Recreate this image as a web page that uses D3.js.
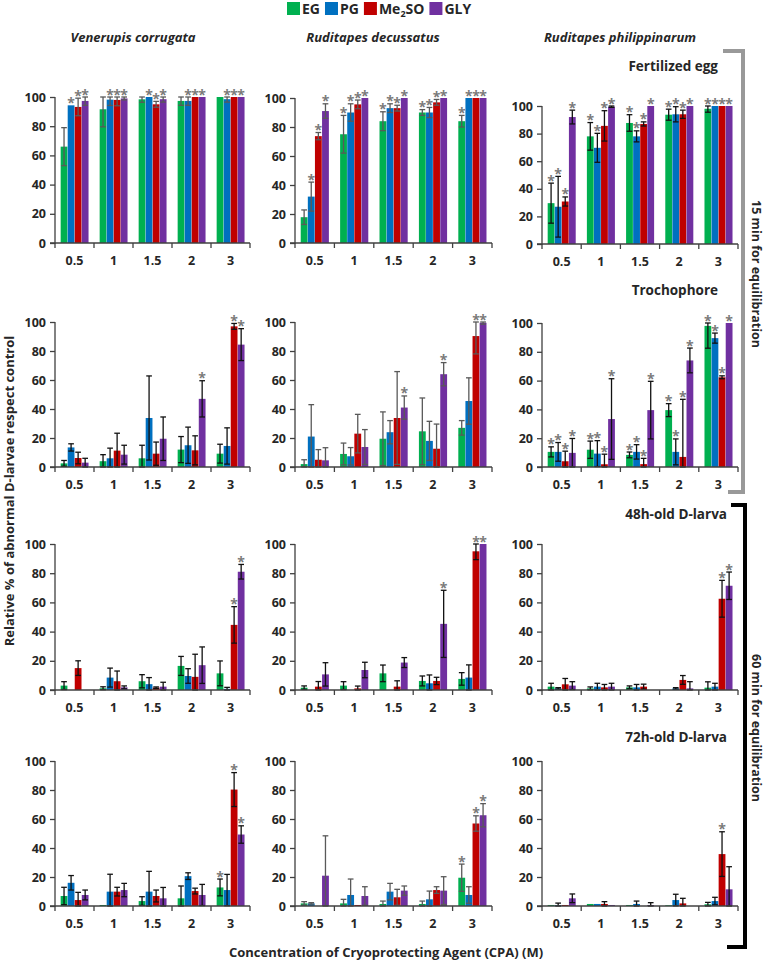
<!DOCTYPE html>
<html><head><meta charset="utf-8">
<script src="https://cdn.jsdelivr.net/npm/d3@7"></script>
<style>body{margin:0;background:#fff} svg{display:block} text{font-family:"Open Sans",sans-serif}</style>
</head><body><svg id="chart" width="767" height="962"></svg>
<script>
const concentrations = ["0.5","1","1.5","2","3"];
const cpas = ["EG","PG","Me2SO","GLY"];
const cpaColors = ["#00B050","#0070C0","#C00000","#7030A0"];
const species = ["Venerupis corrugata","Ruditapes decussatus","Ruditapes philippinarum"];
const stages = ["Fertilized egg","Trochophore","48h-old D-larva","72h-old D-larva"];
const yTicks = [0,20,40,60,80,100];
const equilibration = ["15 min for equilibration","60 min for equilibration"];
const xTitle = "Concentration of Cryoprotecting Agent (CPA) (M)";
const yTitle = "Relative % of abnormal D-larvae respect control";

// each row = one concentration; columns = EG, PG, Me2SO, GLY
const vcEggMean = [[66,94.3,93.2,97.3],[91.6,98.2,98,99],[98.4,100,95,98.5],[97.3,97.3,100,100],[100,98.5,100,100]];
const vcEggSd   = [[13,0,6,3],[12,4,4,1],[2,0,2,2],[3,3,0,0],[0,2,0,0]];
const vcEggSig  = [[0,1,1,1],[0,1,1,1],[0,1,1,1],[0,1,1,1],[0,1,1,1]];

const rdEggMean = [[17.8,32,73.7,91],[75,90,95.6,100],[84,93,93,100],[90,90,97,100],[84,100,100,100]];
const rdEggSd   = [[5,10,2.5,5],[13,6,3,0],[6.5,3,2,0],[2,3.5,2,0],[4,0,0,0]];
const rdEggSig  = [[0,1,1,1],[1,1,1,1],[1,1,1,1],[1,1,1,1],[1,1,1,1]];

const rpEggMean = [[29.6,27,30.8,92],[78,69.7,85.6,99.5],[87.7,78,87,100],[93.7,94,94,100],[98,100,100,100]];
const rpEggSd   = [[14.5,22,3.3,5],[10,10.5,11,0.5],[6,4,1.5,0],[4,5.5,3,0],[2.5,0,0,0]];
const rpEggSig  = [[1,1,1,1],[1,1,1,1],[1,1,1,1],[1,1,1,1],[1,1,1,1]];

const vcTroMean = [[2.5,13.5,6.2,3],[4,6,11.3,8.5],[6,33.8,9.2,19.5],[12,15,11.5,47],[9.2,14.5,97,84.4]];
const vcTroSd   = [[2,2.5,4,3],[4.5,7,12,6.5],[9,29,8,15],[9,12.5,10,12.5],[6.5,12.5,2,11]];
const vcTroSig  = [[0,0,0,0],[0,0,0,0],[0,0,0,0],[0,0,0,1],[0,0,1,1]];

const rdTroMean = [[2,21,5,4.6],[9,7.4,23,13.8],[19.5,24,33.8,41],[24.6,18,12.6,64],[27,45.5,90.3,99.5]];
const rdTroSd   = [[3,22,7,8.7],[7.5,6,13.3,12],[18.5,8,32,8],[23,13.5,17,8],[5,16,12.3,1]];
const rdTroSig  = [[0,0,0,0],[0,0,0,0],[0,0,0,1],[0,0,0,1],[0,0,1,1]];

const rpTroMean = [[10.5,10.5,4,9.8],[12,9.3,1.9,33.3],[8.4,10.5,2,39.5],[39.5,10.5,7,74],[98,89.5,62.3,100]];
const rpTroSd   = [[3.5,6.5,7,10],[6,9,7,28],[2,5,4,20],[4.5,9,40,8.6],[15.5,3.5,1,0]];
const rpTroSig  = [[1,1,1,1],[1,1,1,1],[1,1,1,1],[1,1,1,1],[1,1,1,1]];

const vc48Mean = [[3,0,15,0],[1.2,8.5,6,1.8],[6,4,1.6,2.3],[16.5,9.6,9,17],[11.4,0.8,44.6,81]];
const vc48Sd   = [[2.7,0,5,0],[1,6.5,7,1],[4.5,4.5,0.5,3],[6.5,5,15.5,12.5],[8.5,1,12.5,5]];
const vc48Sig  = [[0,0,0,0],[0,0,0,0],[0,0,0,0],[0,0,0,0],[0,0,1,1]];

const rd48Mean = [[1.6,0,2.3,10.7],[3,0,1.1,13.7],[11.4,0,2.3,18.8],[6.2,4.6,6.2,45.3],[7.6,8.5,95,100]];
const rd48Sd   = [[1.2,0,3.5,8],[2.7,0,1.6,5.3],[5.7,0,4,3.4],[3.4,5.7,2.5,23],[4.3,8.7,5.7,0]];
const rd48Sig  = [[0,0,0,0],[0,0,0,0],[0,0,0,0],[0,0,0,1],[0,0,1,1]];

const rp48Mean = [[2.3,1.1,3.9,3],[1.1,2.3,1.8,2.3],[1.8,1.8,2.3,0],[0,1.1,6.9,1.1],[1.6,2.3,62.5,71.4]];
const rp48Sd   = [[2.3,0.5,4,2.7],[1,2.3,2,2.3],[1,2,1.7,0],[0,0.5,3,4.6],[4,2.3,12.6,9.4]];
const rp48Sig  = [[0,0,0,0],[0,0,0,0],[0,0,0,0],[0,0,0,0],[0,0,1,1]];

const vc72Mean = [[6.9,16,4.1,7.6],[0.7,9.9,9.9,11],[3.4,9.9,6.9,5.3],[5.3,20.6,10.3,7.6],[12.8,11,80.3,49.3]];
const vc72Sd   = [[6,5,5.3,3.4],[0,12,3,4.6],[3,14,4.1,7.5],[8.5,2.3,2,7.3],[5.8,10.8,11.7,6]];
const vc72Sig  = [[0,0,0,0],[0,0,0,0],[0,0,0,0],[0,0,0,0],[1,0,1,1]];

const rd72Mean = [[1.8,1.8,0,20.9],[1.8,7.6,0.7,6.9],[1.4,9.9,6,10.6],[1.4,4.6,11,10.6],[19.5,7.6,56.9,62.6]];
const rd72Sd   = [[1.2,0.5,0,27.5],[2.8,11,0,6.4],[2,5.7,5.5,3.2],[2,5.7,2.3,9.6],[9.4,5.7,5.3,8]];
const rd72Sig  = [[0,0,0,0],[0,0,0,0],[0,0,0,0],[0,0,0,0],[1,0,1,1]];

const rp72Mean = [[0.7,0.7,0.7,5.3],[1.4,1.4,1.4,0.7],[0.7,1.4,0,0.7],[0.5,4.1,1.8,0],[1.2,3.4,35.8,11.5]];
const rp72Sd   = [[0,1.3,0,3],[0,0,1.6,0],[0,2,0,1.6],[0,4,3.5,0],[1.3,2.6,15.4,15.6]];
const rp72Sig  = [[0,0,0,0],[0,0,0,0],[0,0,0,0],[0,0,0,0],[0,0,1,0]];

// panel table built from the arrays above (row = stage, col = species)
const panelData = [
  [[vcEggMean,vcEggSd,vcEggSig],[rdEggMean,rdEggSd,rdEggSig],[rpEggMean,rpEggSd,rpEggSig]],
  [[vcTroMean,vcTroSd,vcTroSig],[rdTroMean,rdTroSd,rdTroSig],[rpTroMean,rpTroSd,rpTroSig]],
  [[vc48Mean,vc48Sd,vc48Sig],[rd48Mean,rd48Sd,rd48Sig],[rp48Mean,rp48Sd,rp48Sig]],
  [[vc72Mean,vc72Sd,vc72Sig],[rd72Mean,rd72Sd,rd72Sig],[rp72Mean,rp72Sd,rp72Sig]]
];

// layout
const colX0 = [55,295,542], colX1 = [250,492,738];
const rowTop = [[97,98,106],[322,322,323],[544,544,544],[761,761,761]];
const rowBot = [[243,243,244],[467,467,467],[690,690,690],[906,906,906]];
const errCol = [["#595959","#595959","#111"],["#111","#595959","#111"],["#111","#111","#111"],["#111","#595959","#111"]];

const svg = d3.select("#chart");
const axisCol = "#404040";
const tickFont = "bold 12.5px 'Open Sans'";

panelData.forEach((row, r) => {
  row.forEach((pd, c) => {
    const [mean, sd, sig] = pd;
    const x0 = colX0[c], x1 = colX1[c];
    const y = d3.scaleLinear().domain([0,100]).range([rowBot[r][c], rowTop[r][c]]);
    const xg = d3.scaleBand().domain(concentrations).range([x0, x1]).padding(0);
    const bw = xg.bandwidth();
    const xb = d3.scaleBand().domain(cpas).range([bw*0.145, bw*0.86]).paddingInner(0.04);
    const g = svg.append("g");

    // bars
    concentrations.forEach((conc, i) => {
      cpas.forEach((cp, k) => {
        const m = mean[i][k];
        const bx = xg(conc) + xb(cp);
        const w = xb.bandwidth();
        if (m > 0) {
          g.append("rect").attr("x", bx).attr("y", y(m)).attr("width", w)
            .attr("height", y(0) - y(m)).attr("fill", cpaColors[k]);
        }
      });
    });
    // error bars + asterisks
    concentrations.forEach((conc, i) => {
      cpas.forEach((cp, k) => {
        const m = mean[i][k], s = sd[i][k];
        const cx = xg(conc) + xb(cp) + xb.bandwidth()/2;
        const cap = xb.bandwidth()*0.42;
        let top = y(m);
        if (s > 0) {
          const hi = Math.min(100, m + s), lo = Math.max(0, m - s);
          top = y(hi);
          const ec = errCol[r][c];
          g.append("line").attr("x1", cx).attr("x2", cx).attr("y1", y(lo)).attr("y2", y(hi))
            .attr("stroke", ec).attr("stroke-width", 1.3);
          [hi, lo].forEach(v => {
            g.append("line").attr("x1", cx-cap).attr("x2", cx+cap).attr("y1", y(v)).attr("y2", y(v))
              .attr("stroke", ec).attr("stroke-width", 1.3);
          });
        }
        if (sig[i][k]) {
          g.append("text").attr("x", cx).attr("y", top + 2.5).attr("text-anchor", "middle")
            .attr("fill", "#7a7a7a").style("font", "bold 14px 'Open Sans'").text("*");
        }
      });
    });

    // y axis
    const ya = d3.axisLeft(y).tickValues(yTicks).tickSize(5).tickPadding(4);
    const yg = g.append("g").attr("transform", `translate(${x0},0)`).call(ya);
    yg.select(".domain").attr("stroke", axisCol).attr("stroke-width", 1.3).attr("d", `M-5,${y(0)}H0V${y(100)}`);
    yg.selectAll(".tick line").attr("stroke", axisCol).attr("stroke-width", 1.3);
    yg.selectAll(".tick text").style("font", tickFont).attr("fill", "#262626");

    // x axis
    const xa = d3.axisBottom(xg).tickSize(0).tickPadding(13);
    const xgAxis = g.append("g").attr("transform", `translate(0,${y(0)})`).call(xa);
    xgAxis.select(".domain").attr("stroke", axisCol).attr("stroke-width", 1.3).attr("d", `M${x0},0H${x1}`);
    xgAxis.selectAll(".tick text").style("font", tickFont).attr("fill", "#262626");
    const bounds = concentrations.map(cn => xg(cn)).concat([x1]);
    g.selectAll("line.bt").data(bounds).enter().append("line").attr("class","bt")
      .attr("x1", d => d).attr("x2", d => d).attr("y1", y(0)).attr("y2", y(0) + 5)
      .attr("stroke", axisCol).attr("stroke-width", 1.3);
  });
});

// legend
const leg = svg.append("g");
let lx = 287;
cpas.forEach((cp, k) => {
  leg.append("rect").attr("x", lx).attr("y", 2).attr("width", 13).attr("height", 13).attr("fill", cpaColors[k]);
  const t = leg.append("text").attr("x", lx + 15).attr("y", 14).style("font", "bold 14px 'Open Sans'").attr("fill", "#262626");
  if (cp === "Me2SO") {
    t.append("tspan").text("Me");
    t.append("tspan").text("2").style("font-size", "9px").attr("dy", 3);
    t.append("tspan").text("SO").attr("dy", -3);
  } else t.text(cp);
  lx += 15 + t.node().getComputedTextLength() + 5;
});

// column titles
const titleX = [133, 373, 620];
species.forEach((s, c) => {
  svg.append("text").attr("x", titleX[c]).attr("y", 42).attr("text-anchor", "middle")
    .style("font", "italic bold 13px 'Open Sans'").attr("fill", "#262626").text(s);
});

// stage labels
const stageX = [718, 718, 727, 727], stageY = [71, 295, 519, 742];
stages.forEach((s, r) => {
  svg.append("text").attr("x", stageX[r]).attr("y", stageY[r]).attr("text-anchor", "end")
    .style("font", "bold 13.5px 'Open Sans'").attr("fill", "#262626").text(s);
});

// axis titles
svg.append("text").attr("transform", "translate(14,491) rotate(-90)").attr("text-anchor", "middle")
  .style("font", "bold 13px 'Open Sans'").attr("fill", "#262626").text(yTitle);
svg.append("text").attr("x", 386).attr("y", 957).attr("text-anchor", "middle")
  .style("font", "bold 13px 'Open Sans'").attr("fill", "#262626").text(xTitle);

// brackets
svg.append("path").attr("d", "M723,51H743V492H728").attr("fill", "none").attr("stroke", "#999").attr("stroke-width", 4);
svg.append("path").attr("d", "M731,505H745V947H727").attr("fill", "none").attr("stroke", "#000").attr("stroke-width", 4);
svg.append("text").attr("transform", "translate(752,274) rotate(90)").attr("text-anchor", "middle")
  .style("font", "bold 12.5px 'Open Sans'").attr("fill", "#262626").text(equilibration[0]);
svg.append("text").attr("transform", "translate(752,728) rotate(90)").attr("text-anchor", "middle")
  .style("font", "bold 12.5px 'Open Sans'").attr("fill", "#262626").text(equilibration[1]);
</script></body></html>
